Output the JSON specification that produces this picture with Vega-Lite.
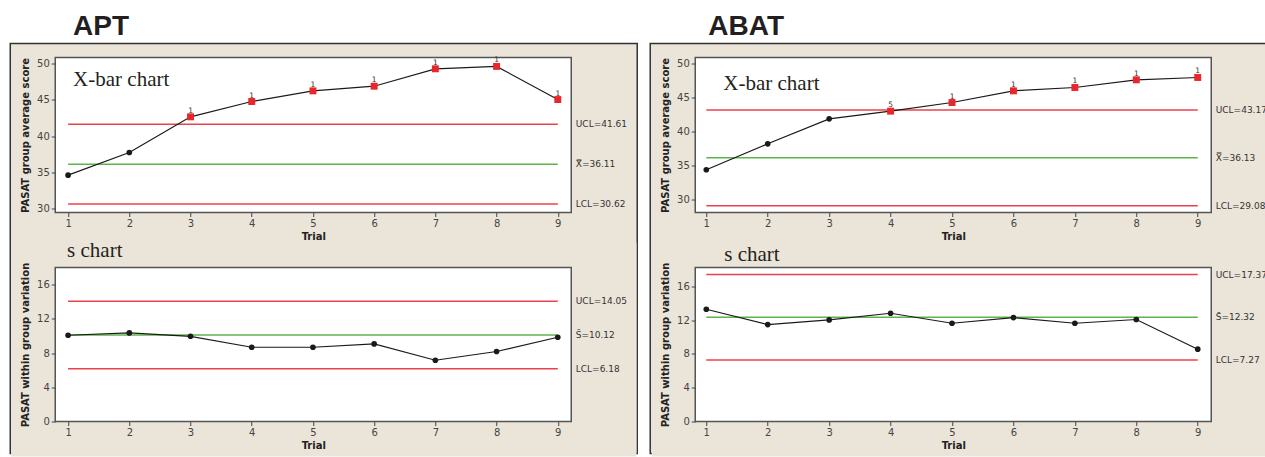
{
  "$schema": "https://vega.github.io/schema/vega-lite/v6.json",
  "background": "white",
  "padding": {"left": 9.25, "top": 12.5, "right": 0, "bottom": 0},
  "datasets": {
    "pts": [
      {"chart": "APT", "panel": "xbar", "trial": 1, "value": 34.6, "flag": ""},
      {"chart": "APT", "panel": "xbar", "trial": 2, "value": 37.72, "flag": ""},
      {"chart": "APT", "panel": "xbar", "trial": 3, "value": 42.65, "flag": "1"},
      {"chart": "APT", "panel": "xbar", "trial": 4, "value": 44.76, "flag": "1"},
      {"chart": "APT", "panel": "xbar", "trial": 5, "value": 46.23, "flag": "1"},
      {"chart": "APT", "panel": "xbar", "trial": 6, "value": 46.87, "flag": "1"},
      {"chart": "APT", "panel": "xbar", "trial": 7, "value": 49.27, "flag": "1"},
      {"chart": "APT", "panel": "xbar", "trial": 8, "value": 49.6, "flag": "1"},
      {"chart": "APT", "panel": "xbar", "trial": 9, "value": 45.03, "flag": "1"},
      {"chart": "APT", "panel": "s", "trial": 1, "value": 10.08, "flag": ""},
      {"chart": "APT", "panel": "s", "trial": 2, "value": 10.35, "flag": ""},
      {"chart": "APT", "panel": "s", "trial": 3, "value": 9.96, "flag": ""},
      {"chart": "APT", "panel": "s", "trial": 4, "value": 8.68, "flag": ""},
      {"chart": "APT", "panel": "s", "trial": 5, "value": 8.68, "flag": ""},
      {"chart": "APT", "panel": "s", "trial": 6, "value": 9.07, "flag": ""},
      {"chart": "APT", "panel": "s", "trial": 7, "value": 7.16, "flag": ""},
      {"chart": "APT", "panel": "s", "trial": 8, "value": 8.18, "flag": ""},
      {"chart": "APT", "panel": "s", "trial": 9, "value": 9.85, "flag": ""},
      {"chart": "ABAT", "panel": "xbar", "trial": 1, "value": 34.37, "flag": ""},
      {"chart": "ABAT", "panel": "xbar", "trial": 2, "value": 38.19, "flag": ""},
      {"chart": "ABAT", "panel": "xbar", "trial": 3, "value": 41.86, "flag": ""},
      {"chart": "ABAT", "panel": "xbar", "trial": 4, "value": 42.99, "flag": "5"},
      {"chart": "ABAT", "panel": "xbar", "trial": 5, "value": 44.26, "flag": "1"},
      {"chart": "ABAT", "panel": "xbar", "trial": 6, "value": 45.98, "flag": "1"},
      {"chart": "ABAT", "panel": "xbar", "trial": 7, "value": 46.47, "flag": "1"},
      {"chart": "ABAT", "panel": "xbar", "trial": 8, "value": 47.6, "flag": "1"},
      {"chart": "ABAT", "panel": "xbar", "trial": 9, "value": 47.94, "flag": "1"},
      {"chart": "ABAT", "panel": "s", "trial": 1, "value": 13.27, "flag": ""},
      {"chart": "ABAT", "panel": "s", "trial": 2, "value": 11.46, "flag": ""},
      {"chart": "ABAT", "panel": "s", "trial": 3, "value": 12.01, "flag": ""},
      {"chart": "ABAT", "panel": "s", "trial": 4, "value": 12.8, "flag": ""},
      {"chart": "ABAT", "panel": "s", "trial": 5, "value": 11.62, "flag": ""},
      {"chart": "ABAT", "panel": "s", "trial": 6, "value": 12.29, "flag": ""},
      {"chart": "ABAT", "panel": "s", "trial": 7, "value": 11.62, "flag": ""},
      {"chart": "ABAT", "panel": "s", "trial": 8, "value": 12.06, "flag": ""},
      {"chart": "ABAT", "panel": "s", "trial": 9, "value": 8.55, "flag": ""}
    ],
    "limits": [
      {"chart": "APT", "panel": "xbar", "kind": "UCL", "value": 41.61, "label": "UCL=41.61"},
      {"chart": "APT", "panel": "xbar", "kind": "CL", "value": 36.11, "label": "X̿=36.11"},
      {"chart": "APT", "panel": "xbar", "kind": "LCL", "value": 30.62, "label": "LCL=30.62"},
      {"chart": "APT", "panel": "s", "kind": "UCL", "value": 14.05, "label": "UCL=14.05"},
      {"chart": "APT", "panel": "s", "kind": "CL", "value": 10.12, "label": "S̄=10.12"},
      {"chart": "APT", "panel": "s", "kind": "LCL", "value": 6.18, "label": "LCL=6.18"},
      {"chart": "ABAT", "panel": "xbar", "kind": "UCL", "value": 43.17, "label": "UCL=43.17"},
      {"chart": "ABAT", "panel": "xbar", "kind": "CL", "value": 36.13, "label": "X̿=36.13"},
      {"chart": "ABAT", "panel": "xbar", "kind": "LCL", "value": 29.08, "label": "LCL=29.08"},
      {"chart": "ABAT", "panel": "s", "kind": "UCL", "value": 17.37, "label": "UCL=17.37"},
      {"chart": "ABAT", "panel": "s", "kind": "CL", "value": 12.32, "label": "S̄=12.32"},
      {"chart": "ABAT", "panel": "s", "kind": "LCL", "value": 7.27, "label": "LCL=7.27"}
    ],
    "one": [{}]
  },
  "columns": 2,
  "spacing": {"row": 55, "column": 124},
  "bounds": "flush",
  "concat": [
    {
      "width": 516, "height": 155,
      "layer": [
        {"data": {"name": "one"}, "mark": {"type": "rect", "fill": "#ebe5d9", "stroke": "#333333", "strokeWidth": 1.5},
         "encoding": {
           "x": {"datum": 0.055, "type": "quantitative", "scale": {"domain": [0.79, 9.22], "nice": false, "zero": false}, "axis": {"values": [1,2,3,4,5,6,7,8,9], "tickCount": 20, "title": "Trial", "format": "d", "titlePadding": 3, "zindex": 2, "labelOverlap": false}},
           "x2": {"datum": 10.298},
           "y": {"datum": 52.76, "type": "quantitative", "scale": {"domain": [29.45, 50.83], "nice": false, "zero": false}, "axis": {"values": [30,35,40,45,50], "tickCount": 20, "title": "PASAT group average score", "titlePadding": 6, "zindex": 2, "labelOverlap": false}},
           "y2": {"datum": -3.79}}},
        {"data": {"name": "one"}, "mark": {"type": "rect", "fill": "white", "stroke": "#555555", "strokeWidth": 1.5},
         "encoding": {"x": {"value": 0}, "x2": {"value": "width"}, "y": {"value": 0}, "y2": {"value": "height"}}},
        {"data": {"name": "limits"}, "transform": [{"filter": "datum.chart === 'APT' && datum.panel === 'xbar'"}],
         "mark": {"type": "rule", "strokeWidth": 1.5},
         "encoding": {
           "x": {"datum": 1, "type": "quantitative", "scale": {"domain": [0.79, 9.22], "nice": false, "zero": false}},
           "x2": {"datum": 9},
           "y": {"field": "value", "type": "quantitative", "scale": {"domain": [29.45, 50.83], "nice": false, "zero": false}},
           "color": {"field": "kind", "type": "nominal", "scale": {"domain": ["UCL", "CL", "LCL"], "range": ["#e8434b", "#5cb548", "#e8434b"]}, "legend": null}}},
        {"data": {"name": "limits"}, "transform": [{"filter": "datum.chart === 'APT' && datum.panel === 'xbar'"}],
         "mark": {"type": "text", "align": "left", "baseline": "middle", "dx": 18, "font": "DejaVu Sans", "fontSize": 9, "color": "#333333"},
         "encoding": {
           "x": {"datum": 9, "type": "quantitative", "scale": {"domain": [0.79, 9.22], "nice": false, "zero": false}},
           "y": {"field": "value", "type": "quantitative", "scale": {"domain": [29.45, 50.83], "nice": false, "zero": false}},
           "text": {"field": "label"}}},
        {"data": {"name": "pts"}, "transform": [{"filter": "datum.chart === 'APT' && datum.panel === 'xbar'"}],
         "mark": {"type": "line", "color": "#1a1a1a", "strokeWidth": 1.2},
         "encoding": {
           "x": {"field": "trial", "type": "quantitative", "scale": {"domain": [0.79, 9.22], "nice": false, "zero": false}},
           "y": {"field": "value", "type": "quantitative", "scale": {"domain": [29.45, 50.83], "nice": false, "zero": false}}}},
        {"data": {"name": "pts"}, "transform": [{"filter": "datum.chart === 'APT' && datum.panel === 'xbar' && datum.flag === ''"}],
         "mark": {"type": "point", "shape": "circle", "filled": true, "color": "#1a1a1a", "size": 32, "opacity": 1},
         "encoding": {
           "x": {"field": "trial", "type": "quantitative", "scale": {"domain": [0.79, 9.22], "nice": false, "zero": false}},
           "y": {"field": "value", "type": "quantitative", "scale": {"domain": [29.45, 50.83], "nice": false, "zero": false}}}},
        {"data": {"name": "pts"}, "transform": [{"filter": "datum.chart === 'APT' && datum.panel === 'xbar' && datum.flag !== ''"}],
         "mark": {"type": "point", "shape": "square", "filled": true, "color": "#e8262c", "size": 48, "opacity": 1},
         "encoding": {
           "x": {"field": "trial", "type": "quantitative", "scale": {"domain": [0.79, 9.22], "nice": false, "zero": false}},
           "y": {"field": "value", "type": "quantitative", "scale": {"domain": [29.45, 50.83], "nice": false, "zero": false}}}},
        {"data": {"name": "pts"}, "transform": [{"filter": "datum.chart === 'APT' && datum.panel === 'xbar' && datum.flag !== ''"}],
         "mark": {"type": "text", "baseline": "alphabetic", "dy": -4, "font": "DejaVu Sans", "fontSize": 7.5, "color": "#333333"},
         "encoding": {
           "x": {"field": "trial", "type": "quantitative", "scale": {"domain": [0.79, 9.22], "nice": false, "zero": false}},
           "y": {"field": "value", "type": "quantitative", "scale": {"domain": [29.45, 50.83], "nice": false, "zero": false}},
           "text": {"field": "flag"}}},
        {"data": {"name": "one"}, "mark": {"type": "text", "align": "left", "baseline": "alphabetic", "dx": 5, "dy": 28.7, "font": "Liberation Serif", "fontSize": 21, "color": "#231f20"},
         "encoding": {
           "x": {"datum": 1, "type": "quantitative", "scale": {"domain": [0.79, 9.22], "nice": false, "zero": false}},
           "y": {"datum": 50.83, "type": "quantitative", "scale": {"domain": [29.45, 50.83], "nice": false, "zero": false}},
           "text": {"value": "X-bar chart"}}},
        {"data": {"name": "one"}, "mark": {"type": "text", "align": "left", "baseline": "alphabetic", "dx": 5, "dy": -23, "font": "Liberation Sans", "fontWeight": "bold", "fontSize": 28, "color": "#231f20"},
         "encoding": {
           "x": {"datum": 1, "type": "quantitative", "scale": {"domain": [0.79, 9.22], "nice": false, "zero": false}},
           "y": {"datum": 50.83, "type": "quantitative", "scale": {"domain": [29.45, 50.83], "nice": false, "zero": false}},
           "text": {"value": "APT"}}}
      ]
    },
    {
      "width": 516, "height": 155,
      "layer": [
        {"data": {"name": "one"}, "mark": {"type": "rect", "fill": "#ebe5d9", "stroke": "#333333", "strokeWidth": 1.5},
         "encoding": {
           "x": {"datum": 0.087, "type": "quantitative", "scale": {"domain": [0.82, 9.22], "nice": false, "zero": false}, "axis": {"values": [1,2,3,4,5,6,7,8,9], "tickCount": 20, "title": "Trial", "format": "d", "titlePadding": 3, "zindex": 2, "labelOverlap": false}},
           "x2": {"datum": 10.118},
           "y": {"datum": 52.94, "type": "quantitative", "scale": {"domain": [28.09, 50.88], "nice": false, "zero": false}, "axis": {"values": [30,35,40,45,50], "tickCount": 20, "title": "PASAT group average score", "titlePadding": 6, "zindex": 2, "labelOverlap": false}},
           "y2": {"datum": -7.36}}},
        {"data": {"name": "one"}, "mark": {"type": "rect", "fill": "white", "stroke": "#555555", "strokeWidth": 1.5},
         "encoding": {"x": {"value": 0}, "x2": {"value": "width"}, "y": {"value": 0}, "y2": {"value": "height"}}},
        {"data": {"name": "limits"}, "transform": [{"filter": "datum.chart === 'ABAT' && datum.panel === 'xbar'"}],
         "mark": {"type": "rule", "strokeWidth": 1.5},
         "encoding": {
           "x": {"datum": 1, "type": "quantitative", "scale": {"domain": [0.82, 9.22], "nice": false, "zero": false}},
           "x2": {"datum": 9},
           "y": {"field": "value", "type": "quantitative", "scale": {"domain": [28.09, 50.88], "nice": false, "zero": false}},
           "color": {"field": "kind", "type": "nominal", "scale": {"domain": ["UCL", "CL", "LCL"], "range": ["#e8434b", "#5cb548", "#e8434b"]}, "legend": null}}},
        {"data": {"name": "limits"}, "transform": [{"filter": "datum.chart === 'ABAT' && datum.panel === 'xbar'"}],
         "mark": {"type": "text", "align": "left", "baseline": "middle", "dx": 18, "font": "DejaVu Sans", "fontSize": 9, "color": "#333333"},
         "encoding": {
           "x": {"datum": 9, "type": "quantitative", "scale": {"domain": [0.82, 9.22], "nice": false, "zero": false}},
           "y": {"field": "value", "type": "quantitative", "scale": {"domain": [28.09, 50.88], "nice": false, "zero": false}},
           "text": {"field": "label"}}},
        {"data": {"name": "pts"}, "transform": [{"filter": "datum.chart === 'ABAT' && datum.panel === 'xbar'"}],
         "mark": {"type": "line", "color": "#1a1a1a", "strokeWidth": 1.2},
         "encoding": {
           "x": {"field": "trial", "type": "quantitative", "scale": {"domain": [0.82, 9.22], "nice": false, "zero": false}},
           "y": {"field": "value", "type": "quantitative", "scale": {"domain": [28.09, 50.88], "nice": false, "zero": false}}}},
        {"data": {"name": "pts"}, "transform": [{"filter": "datum.chart === 'ABAT' && datum.panel === 'xbar' && datum.flag === ''"}],
         "mark": {"type": "point", "shape": "circle", "filled": true, "color": "#1a1a1a", "size": 32, "opacity": 1},
         "encoding": {
           "x": {"field": "trial", "type": "quantitative", "scale": {"domain": [0.82, 9.22], "nice": false, "zero": false}},
           "y": {"field": "value", "type": "quantitative", "scale": {"domain": [28.09, 50.88], "nice": false, "zero": false}}}},
        {"data": {"name": "pts"}, "transform": [{"filter": "datum.chart === 'ABAT' && datum.panel === 'xbar' && datum.flag !== ''"}],
         "mark": {"type": "point", "shape": "square", "filled": true, "color": "#e8262c", "size": 48, "opacity": 1},
         "encoding": {
           "x": {"field": "trial", "type": "quantitative", "scale": {"domain": [0.82, 9.22], "nice": false, "zero": false}},
           "y": {"field": "value", "type": "quantitative", "scale": {"domain": [28.09, 50.88], "nice": false, "zero": false}}}},
        {"data": {"name": "pts"}, "transform": [{"filter": "datum.chart === 'ABAT' && datum.panel === 'xbar' && datum.flag !== ''"}],
         "mark": {"type": "text", "baseline": "alphabetic", "dy": -4, "font": "DejaVu Sans", "fontSize": 7.5, "color": "#333333"},
         "encoding": {
           "x": {"field": "trial", "type": "quantitative", "scale": {"domain": [0.82, 9.22], "nice": false, "zero": false}},
           "y": {"field": "value", "type": "quantitative", "scale": {"domain": [28.09, 50.88], "nice": false, "zero": false}},
           "text": {"field": "flag"}}},
        {"data": {"name": "one"}, "mark": {"type": "text", "align": "left", "baseline": "alphabetic", "dx": 17, "dy": 32, "font": "Liberation Serif", "fontSize": 21, "color": "#231f20"},
         "encoding": {
           "x": {"datum": 1, "type": "quantitative", "scale": {"domain": [0.82, 9.22], "nice": false, "zero": false}},
           "y": {"datum": 50.88, "type": "quantitative", "scale": {"domain": [28.09, 50.88], "nice": false, "zero": false}},
           "text": {"value": "X-bar chart"}}},
        {"data": {"name": "one"}, "mark": {"type": "text", "align": "left", "baseline": "alphabetic", "dx": 2, "dy": -23, "font": "Liberation Sans", "fontWeight": "bold", "fontSize": 28, "color": "#231f20"},
         "encoding": {
           "x": {"datum": 1, "type": "quantitative", "scale": {"domain": [0.82, 9.22], "nice": false, "zero": false}},
           "y": {"datum": 50.88, "type": "quantitative", "scale": {"domain": [28.09, 50.88], "nice": false, "zero": false}},
           "text": {"value": "ABAT"}}}
      ]
    },
    {
      "width": 516, "height": 154,
      "layer": [
        {"data": {"name": "one"}, "mark": {"type": "rect", "fill": "#ebe5d9"},
         "encoding": {
           "x": {"datum": 0.068, "type": "quantitative", "scale": {"domain": [0.79, 9.22], "nice": false, "zero": false}, "axis": {"values": [1,2,3,4,5,6,7,8,9], "tickCount": 20, "title": "Trial", "format": "d", "titlePadding": 3, "zindex": 2, "labelOverlap": false}},
           "x2": {"datum": 10.285},
           "y": {"datum": 20.92, "type": "quantitative", "scale": {"domain": [0, 18], "nice": false, "zero": false}, "axis": {"values": [0,4,8,12,16], "tickCount": 20, "title": "PASAT within group variation", "titlePadding": 6, "zindex": 2, "labelOverlap": false}},
           "y2": {"datum": -4.09}}},
        {"data": {"name": "one"}, "mark": {"type": "rect", "fill": "white", "stroke": "#555555", "strokeWidth": 1.5},
         "encoding": {"x": {"value": 0}, "x2": {"value": "width"}, "y": {"value": 0}, "y2": {"value": "height"}}},
        {"data": {"name": "limits"}, "transform": [{"filter": "datum.chart === 'APT' && datum.panel === 's'"}],
         "mark": {"type": "rule", "strokeWidth": 1.5},
         "encoding": {
           "x": {"datum": 1, "type": "quantitative", "scale": {"domain": [0.79, 9.22], "nice": false, "zero": false}},
           "x2": {"datum": 9},
           "y": {"field": "value", "type": "quantitative", "scale": {"domain": [0, 18], "nice": false, "zero": false}},
           "color": {"field": "kind", "type": "nominal", "scale": {"domain": ["UCL", "CL", "LCL"], "range": ["#e8434b", "#5cb548", "#e8434b"]}, "legend": null}}},
        {"data": {"name": "limits"}, "transform": [{"filter": "datum.chart === 'APT' && datum.panel === 's'"}],
         "mark": {"type": "text", "align": "left", "baseline": "middle", "dx": 18, "font": "DejaVu Sans", "fontSize": 9, "color": "#333333"},
         "encoding": {
           "x": {"datum": 9, "type": "quantitative", "scale": {"domain": [0.79, 9.22], "nice": false, "zero": false}},
           "y": {"field": "value", "type": "quantitative", "scale": {"domain": [0, 18], "nice": false, "zero": false}},
           "text": {"field": "label"}}},
        {"data": {"name": "pts"}, "transform": [{"filter": "datum.chart === 'APT' && datum.panel === 's'"}],
         "mark": {"type": "line", "color": "#1a1a1a", "strokeWidth": 1.2},
         "encoding": {
           "x": {"field": "trial", "type": "quantitative", "scale": {"domain": [0.79, 9.22], "nice": false, "zero": false}},
           "y": {"field": "value", "type": "quantitative", "scale": {"domain": [0, 18], "nice": false, "zero": false}}}},
        {"data": {"name": "pts"}, "transform": [{"filter": "datum.chart === 'APT' && datum.panel === 's'"}],
         "mark": {"type": "point", "shape": "circle", "filled": true, "color": "#1a1a1a", "size": 32, "opacity": 1},
         "encoding": {
           "x": {"field": "trial", "type": "quantitative", "scale": {"domain": [0.79, 9.22], "nice": false, "zero": false}},
           "y": {"field": "value", "type": "quantitative", "scale": {"domain": [0, 18], "nice": false, "zero": false}}}},
        {"data": {"name": "one"}, "mark": {"type": "text", "align": "left", "baseline": "alphabetic", "dx": -1, "dy": -10.5, "font": "Liberation Serif", "fontSize": 21, "color": "#231f20"},
         "encoding": {
           "x": {"datum": 1, "type": "quantitative", "scale": {"domain": [0.79, 9.22], "nice": false, "zero": false}},
           "y": {"datum": 18, "type": "quantitative", "scale": {"domain": [0, 18], "nice": false, "zero": false}},
           "text": {"value": "s chart"}}}
      ]
    },
    {
      "width": 516, "height": 154,
      "layer": [
        {"data": {"name": "one"}, "mark": {"type": "rect", "fill": "#ebe5d9"},
         "encoding": {
           "x": {"datum": 0.112, "type": "quantitative", "scale": {"domain": [0.82, 9.22], "nice": false, "zero": false}, "axis": {"values": [1,2,3,4,5,6,7,8,9], "tickCount": 20, "title": "Trial", "format": "d", "titlePadding": 3, "zindex": 2, "labelOverlap": false}},
           "x2": {"datum": 10.118},
           "y": {"datum": 21.17, "type": "quantitative", "scale": {"domain": [0, 18.21], "nice": false, "zero": false}, "axis": {"values": [0,4,8,12,16], "tickCount": 20, "title": "PASAT within group variation", "titlePadding": 6, "zindex": 2, "labelOverlap": false}},
           "y2": {"datum": -4.14}}},
        {"data": {"name": "one"}, "mark": {"type": "rect", "fill": "white", "stroke": "#555555", "strokeWidth": 1.5},
         "encoding": {"x": {"value": 0}, "x2": {"value": "width"}, "y": {"value": 0}, "y2": {"value": "height"}}},
        {"data": {"name": "limits"}, "transform": [{"filter": "datum.chart === 'ABAT' && datum.panel === 's'"}],
         "mark": {"type": "rule", "strokeWidth": 1.5},
         "encoding": {
           "x": {"datum": 1, "type": "quantitative", "scale": {"domain": [0.82, 9.22], "nice": false, "zero": false}},
           "x2": {"datum": 9},
           "y": {"field": "value", "type": "quantitative", "scale": {"domain": [0, 18.21], "nice": false, "zero": false}},
           "color": {"field": "kind", "type": "nominal", "scale": {"domain": ["UCL", "CL", "LCL"], "range": ["#e8434b", "#5cb548", "#e8434b"]}, "legend": null}}},
        {"data": {"name": "limits"}, "transform": [{"filter": "datum.chart === 'ABAT' && datum.panel === 's'"}],
         "mark": {"type": "text", "align": "left", "baseline": "middle", "dx": 18, "font": "DejaVu Sans", "fontSize": 9, "color": "#333333"},
         "encoding": {
           "x": {"datum": 9, "type": "quantitative", "scale": {"domain": [0.82, 9.22], "nice": false, "zero": false}},
           "y": {"field": "value", "type": "quantitative", "scale": {"domain": [0, 18.21], "nice": false, "zero": false}},
           "text": {"field": "label"}}},
        {"data": {"name": "pts"}, "transform": [{"filter": "datum.chart === 'ABAT' && datum.panel === 's'"}],
         "mark": {"type": "line", "color": "#1a1a1a", "strokeWidth": 1.2},
         "encoding": {
           "x": {"field": "trial", "type": "quantitative", "scale": {"domain": [0.82, 9.22], "nice": false, "zero": false}},
           "y": {"field": "value", "type": "quantitative", "scale": {"domain": [0, 18.21], "nice": false, "zero": false}}}},
        {"data": {"name": "pts"}, "transform": [{"filter": "datum.chart === 'ABAT' && datum.panel === 's'"}],
         "mark": {"type": "point", "shape": "circle", "filled": true, "color": "#1a1a1a", "size": 32, "opacity": 1},
         "encoding": {
           "x": {"field": "trial", "type": "quantitative", "scale": {"domain": [0.82, 9.22], "nice": false, "zero": false}},
           "y": {"field": "value", "type": "quantitative", "scale": {"domain": [0, 18.21], "nice": false, "zero": false}}}},
        {"data": {"name": "one"}, "mark": {"type": "text", "align": "left", "baseline": "alphabetic", "dx": 18, "dy": -6.3, "font": "Liberation Serif", "fontSize": 21, "color": "#231f20"},
         "encoding": {
           "x": {"datum": 1, "type": "quantitative", "scale": {"domain": [0.82, 9.22], "nice": false, "zero": false}},
           "y": {"datum": 18.21, "type": "quantitative", "scale": {"domain": [0, 18.21], "nice": false, "zero": false}},
           "text": {"value": "s chart"}}}
      ]
    }
  ],
  "config": {
    "view": {"stroke": null, "fill": null},
    "axis": {"domain": false, "grid": false, "ticks": true, "tickColor": "#444444", "tickSize": 4, "tickWidth": 1, "labelFont": "DejaVu Sans", "labelFontSize": 10, "labelColor": "#444444", "labelPadding": 2, "labelOverlap": false, "titleFont": "DejaVu Sans", "titleFontSize": 10, "titleFontWeight": "bold", "titleColor": "#222222", "zindex": 2}
  }
}
